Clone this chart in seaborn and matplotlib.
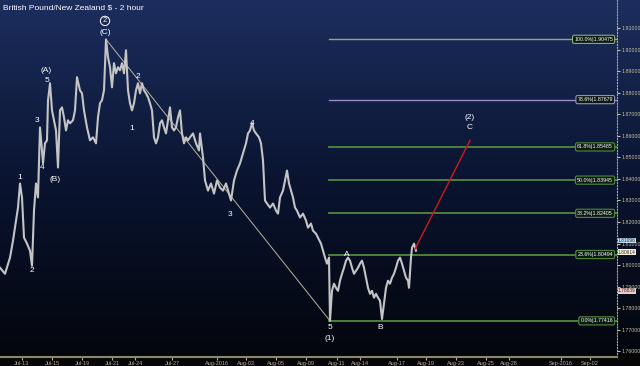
import numpy as np
import matplotlib
matplotlib.use('Agg')
import matplotlib.pyplot as plt
import seaborn as sns
from matplotlib.colors import LinearSegmentedColormap
from matplotlib.patches import Rectangle

plt.rcParams['font.family'] = ['Liberation Sans', 'DejaVu Sans']

# 2-hour bars (trading-time index) and closing prices
bars = [0, 5, 10, 13, 15, 18, 20, 22, 24, 27, 30, 32, 34, 36, 38, 40, 42, 43, 45, 47,
        48, 50, 52, 54, 56, 58, 60, 62, 64, 66, 68, 70, 73, 75, 77, 80, 82, 84, 87, 90,
        93, 96, 98, 100, 102, 104, 106, 108, 110, 112, 114, 116, 118, 120, 122, 124, 126,
        128, 130, 132, 134, 136, 138, 140, 142, 144, 146, 148, 150, 152, 154, 156, 158,
        160, 162, 164, 166, 168, 170, 172, 174, 176, 178, 180, 182, 184, 186, 188, 190,
        193, 196, 199, 200, 203, 205, 208, 211, 214, 217, 220, 223, 226, 229, 231, 234,
        237, 240, 243, 246, 248, 250, 252, 254, 256, 259, 261, 263, 265, 267, 270, 273,
        276, 278, 280, 283, 285, 287, 289, 291, 293, 295, 297, 300, 303, 306, 308, 311,
        313, 316, 318, 321, 323, 325, 327, 329, 330, 332, 334, 336, 338, 340, 342, 344,
        346, 348, 350, 352, 354, 356, 358, 360, 362, 364, 366, 368, 370, 372, 374, 376,
        378, 380, 382, 384, 386, 388, 390, 392, 394, 396, 398, 400, 402, 404, 406, 408,
        409, 411, 412, 414, 416]
closes = [1.7988, 1.7960, 1.8035, 1.8114, 1.8174, 1.8267, 1.8379, 1.8314, 1.8128, 1.8100,
          1.8067, 1.7997, 1.8253, 1.8379, 1.8314, 1.8639, 1.8532, 1.8472, 1.8565, 1.8579,
          1.8765, 1.8844, 1.8718, 1.8672, 1.8625, 1.8453, 1.8718, 1.8732, 1.8686, 1.8625,
          1.8672, 1.8658, 1.8672, 1.8718, 1.8872, 1.8811, 1.8797, 1.8718, 1.8639, 1.8579,
          1.8593, 1.8565, 1.8686, 1.8751, 1.8765, 1.8811, 1.9047, 1.8965, 1.8918, 1.8825,
          1.8937, 1.8890, 1.8918, 1.8904, 1.8937, 1.8890, 1.8997, 1.8811, 1.8751, 1.8718,
          1.8751, 1.8811, 1.8844, 1.8797, 1.8844, 1.8811, 1.8797, 1.8779, 1.8751, 1.8718,
          1.8593, 1.8565, 1.8593, 1.8658, 1.8672, 1.8639, 1.8611, 1.8672, 1.8732, 1.8639,
          1.8625, 1.8639, 1.8686, 1.8718, 1.8611, 1.8565, 1.8593, 1.8579, 1.8593, 1.8611,
          1.8565, 1.8532, 1.8611, 1.8500, 1.8393, 1.8346, 1.8379, 1.8332, 1.8393, 1.8360,
          1.8346, 1.8379, 1.8332, 1.8300, 1.8393, 1.8439, 1.8472, 1.8518, 1.8565, 1.8611,
          1.8625, 1.8658, 1.8625, 1.8611, 1.8593, 1.8565, 1.8486, 1.8300, 1.8286, 1.8267,
          1.8286, 1.8253, 1.8239, 1.8314, 1.8346, 1.8393, 1.8439, 1.8379, 1.8346, 1.8314,
          1.8267, 1.8253, 1.8221, 1.8239, 1.8207, 1.8174, 1.8193, 1.8160, 1.8146, 1.8128,
          1.8100, 1.8067, 1.8035, 1.8007, 1.8035, 1.7742, 1.7881, 1.7914, 1.7895, 1.7881,
          1.7928, 1.7960, 1.7988, 1.8021, 1.8035, 1.8021, 1.7988, 1.7960, 1.7974, 1.7988,
          1.8007, 1.8021, 1.7988, 1.7942, 1.7895, 1.7867, 1.7881, 1.7849, 1.7867, 1.7849,
          1.7835, 1.7750, 1.7821, 1.7895, 1.7928, 1.7914, 1.7942, 1.7960, 1.7988, 1.8021,
          1.8035, 1.8007, 1.7974, 1.7942, 1.7928, 1.7895, 1.8035, 1.8081, 1.8100, 1.8067]

# Fibonacci retracement levels
fib_names = ['100.0%', '78.6%', '61.8%', '50.0%', '38.2%', '23.6%', '0.0%']
fib_prices = [1.90475, 1.87679, 1.85485, 1.83945, 1.82405, 1.80494, 1.77416]
fib_colors = ['#86b070', '#9a8cc8', '#4f8a3c', '#4f8a3c', '#4f8a3c', '#4f8a3c', '#4f8a3c']
fib_start = 329

# wave annotations: label, bar, price
wave_labels = ['1', '2', '3', '4', '(B)', '5', '(A)', '(C)', '2', '1', '3', '4', 'A', '5', '(1)', 'B', '(2)', 'C']
wave_bars = [20, 32, 37, 42, 55, 47, 46, 105, 138, 132, 230, 252, 347, 330, 330, 380, 470, 470]
wave_prices = [1.8407, 1.7974, 1.8672, 1.8453, 1.8398, 1.8858, 1.8904, 1.9080, 1.8876, 1.8635,
               1.8235, 1.8658, 1.8049, 1.7713, 1.7662, 1.7713, 1.8686, 1.8639]

# diagonal (C)-5 and projected C leg
diag_bars = [106, 330]
diag_prices = [1.90475, 1.77416]
proj_bars = [415, 470]
proj_prices = [1.8075, 1.8579]

# axis ticks
xtick_pos = [22, 52, 82, 112, 135, 172, 217, 246, 276, 306, 337, 360, 397, 426, 456, 486, 509, 561, 590]
xtick_lab = ['Jul-13', 'Jul-15', 'Jul-19', 'Jul-21', 'Jul-24', 'Jul-27', 'Aug-2016', 'Aug-03', 'Aug-05',
             'Aug-09', 'Aug-11', 'Aug-14', 'Aug-17', 'Aug-19', 'Aug-23', 'Aug-25', 'Aug-28', 'Sep-2016', 'Sep-02']
ytick_vals = [1.76, 1.77, 1.78, 1.79, 1.80, 1.81, 1.82, 1.83, 1.84, 1.85, 1.86, 1.87, 1.88, 1.89, 1.90, 1.91]

# price tags on the right axis
tag_prices = [1.8114, 1.8060, 1.7881]
tag_texts = ['1.81096', '1.80614', '1.78839']
tag_colors = ['#bcd8f0', '#f4f0d8', '#f0c8c8']

W, H = 640, 366
fig = plt.figure(figsize=(W / 100, H / 100), dpi=100)

# navy gradient background with dark band for the date axis
bg = fig.add_axes([0, 0, 1, 1], zorder=-5)
grad = np.linspace(0, 1, 256).reshape(-1, 1)
cmap = LinearSegmentedColormap.from_list('bg', ['#1c2e5e', '#0a1430', '#03050b'])
bg.imshow(grad, aspect='auto', cmap=cmap, extent=[0, 1, 0, 1])
bg.add_patch(Rectangle((0, 0), 1, 9 / H, color='#060606', transform=bg.transAxes))
bg.set_xlim(0, 1)
bg.set_ylim(0, 1)
bg.axis('off')

ax = fig.add_axes([0, 9 / H, 617 / W, 357 / H])
ax.patch.set_alpha(0)

# fib levels
for name, p, c in zip(fib_names, fib_prices, fib_colors):
    lw = 1.0 if name in ('100.0%', '78.6%') else 1.3
    ax.plot([fib_start, 617], [p, p], color=c, lw=lw, zorder=2)
    ax.text(613, p, f'{name}|{p:.5f}', fontsize=3.8, color='white', ha='right', va='center', zorder=5,
            bbox=dict(boxstyle='round,pad=0.3', fc='#0d1a12', ec=c, lw=0.8))

ax.plot(diag_bars, diag_prices, color='#b8b4a0', lw=0.7, zorder=3)
sns.lineplot(x=bars, y=closes, ax=ax, color='#c4c4c4', lw=1.5, zorder=4)
ax.plot(proj_bars, proj_prices, color='#d01818', lw=1.0, zorder=4)

for lab, b, p in zip(wave_labels, wave_bars, wave_prices):
    ax.text(b, p, lab, fontsize=6, color='white', ha='center', va='center', zorder=6)
ax.text(105, 1.9133, '2', fontsize=5.5, color='white', ha='center', va='center', zorder=6,
        bbox=dict(boxstyle='circle,pad=0.15', fc='none', ec='white', lw=0.7))

ax.set_xlim(0, 617)
ax.set_ylim(1.7574, 1.9230)
ax.set_xticks(xtick_pos)
ax.set_xticklabels(xtick_lab)
ax.set_yticks(ytick_vals)
ax.set_yticklabels([f'{v:.5f}' for v in ytick_vals])
ax.yaxis.tick_right()
ax.tick_params(axis='x', colors='#b8b090', labelsize=4.0, length=2, pad=1)
ax.tick_params(axis='y', colors='#c8c0a0', labelsize=3.8, length=2, pad=1)
ax.set_xlabel('')
ax.set_ylabel('')
for s in ['top', 'left']:
    ax.spines[s].set_visible(False)
ax.spines['bottom'].set_color('#8a8670')
ax.spines['bottom'].set_linewidth(1.5)
ax.spines['right'].set_color('#b0a890')
ax.spines['right'].set_linestyle(':')

for p, t, c in zip(tag_prices, tag_texts, tag_colors):
    ax.text(618, p, t, fontsize=3.5, color='#303030', ha='left', va='center', clip_on=False, zorder=7,
            bbox=dict(boxstyle='square,pad=0.08', fc=c, ec='none'))

fig.text(3 / W, 1 - 4 / H, 'British Pound/New Zealand $ - 2 hour', color='white', fontsize=6,
         ha='left', va='top')

fig.savefig('out.png', dpi=100)
